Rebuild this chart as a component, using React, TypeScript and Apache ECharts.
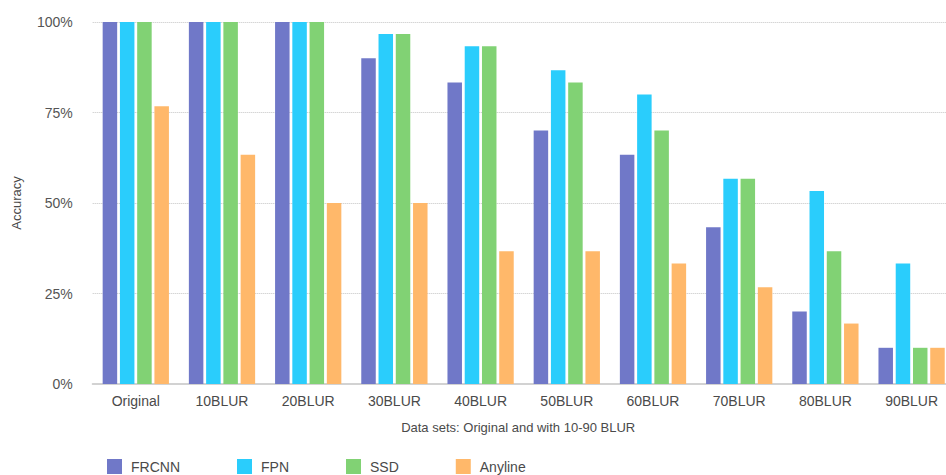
import React, { useEffect, useRef } from "react";
import * as echarts from "echarts";

const categories = ["Original", "10BLUR", "20BLUR", "30BLUR", "40BLUR", "50BLUR", "60BLUR", "70BLUR", "80BLUR", "90BLUR"];
const frcnn = [100, 100, 100, 90, 83.3, 70, 63.3, 43.3, 20, 10];
const fpn = [100, 100, 100, 96.7, 93.3, 86.7, 80, 56.7, 53.3, 33.3];
const ssd = [100, 100, 100, 96.7, 93.3, 83.3, 70, 56.7, 36.7, 10];
const anyline = [76.7, 63.3, 50, 50, 36.7, 36.7, 33.3, 26.7, 16.7, 10];
const seriesNames = ["FRCNN", "FPN", "SSD", "Anyline"];
const colors = ["#7078C8", "#2ACDFC", "#81D274", "#FFB86A"];

export default function App() {
  const ref = useRef<HTMLDivElement>(null);
  useEffect(() => {
    if (!ref.current) return;
    const chart = echarts.init(ref.current, null, { renderer: "svg" });
    const font = "'Liberation Sans', Arial, Helvetica, sans-serif";
    const data = [frcnn, fpn, ssd, anyline];
    chart.setOption({
      animation: false,
      textStyle: { fontFamily: font },
      grid: { left: 92.7, width: 862, top: 22, height: 362, containLabel: false, outerBoundsMode: "none" },
      legend: {
        left: 107,
        top: 459,
        padding: 0,
        itemWidth: 15,
        itemHeight: 15,
        itemGap: 57,
        icon: "rect",
        textStyle: { fontSize: 14, color: "#4a4a4a", fontFamily: font, padding: [0, 0, 0, 4] },
        data: seriesNames,
      },
      xAxis: {
        type: "category",
        data: categories,
        axisTick: { show: false },
        axisLine: { lineStyle: { color: "#d2d2d2", width: 2 } },
        axisLabel: { color: "#4a4a4a", fontSize: 14, margin: 10, fontFamily: font },
        name: "Data sets: Original and with 10-90 BLUR",
        nameLocation: "middle",
        nameGap: 37,
        nameTextStyle: { color: "#4a4a4a", fontSize: 13, fontFamily: font, padding: [0, 11, 0, 0] },
      },
      yAxis: {
        type: "value",
        min: 0,
        max: 100,
        interval: 25,
        axisLine: { show: false },
        axisTick: { show: false },
        axisLabel: { formatter: "{value}%", color: "#555", fontSize: 14, margin: 20, fontFamily: font },
        splitLine: { lineStyle: { type: "dotted", color: "#c4c4c4", width: 1 } },
        name: "Accuracy",
        nameLocation: "middle",
        nameRotate: 90,
        nameGap: 70,
        nameTextStyle: { color: "#4a4a4a", fontSize: 13, fontFamily: font },
      },
      series: seriesNames.map((n, i) => ({
        name: n,
        type: "bar",
        data: data[i],
        barWidth: 14.5,
        barGap: "19%",
        itemStyle: { color: colors[i] },
      })),
    });
    return () => chart.dispose();
  }, []);
  return <div ref={ref} style={{ width: 946, height: 475, position: "absolute", left: 0, top: 0 }} />;
}
